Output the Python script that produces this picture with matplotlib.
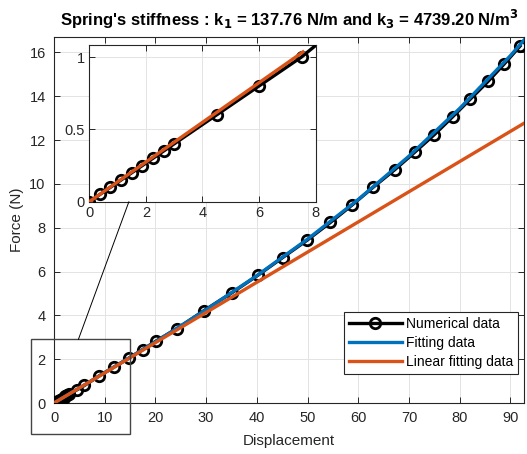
import matplotlib
matplotlib.use("Agg")
import matplotlib.pyplot as plt
from matplotlib.patches import Rectangle, ConnectionPatch

plt.rcParams["font.family"] = ["Liberation Sans", "DejaVu Sans"]

# Numerical data (displacement, force).
dispNum = [0, 0.375, 0.75, 1.125, 1.5, 1.875, 2.25, 2.625, 3.0, 4.5, 6.0, 8.9, 11.8,
           14.7, 17.5, 20.2, 24.3, 29.6, 35.0, 40.2, 45.1, 49.9, 54.5, 58.8, 63.0,
           67.2, 71.1, 75.0, 78.6, 82.1, 85.6, 88.8, 91.9]
forceNum = [0, 0.05, 0.10, 0.15, 0.20, 0.25, 0.30, 0.35, 0.40, 0.60, 0.80, 1.24, 1.64,
            2.04, 2.44, 2.84, 3.40, 4.22, 5.02, 5.83, 6.64, 7.43, 8.24, 9.04, 9.86,
            10.65, 11.44, 12.25, 13.06, 13.87, 14.68, 15.48, 16.29]

# Cubic fitting curve (blue).
dispFit = [0, 10, 20, 30, 40, 50, 60, 70, 80, 90, 92.7]
forceFit = [0, 1.382, 2.793, 4.261, 5.814, 7.480, 9.289, 11.269, 13.447, 15.853, 16.57]

# Linear fitting line (orange).
dispLin = [0, 92.7]
forceLin = [0, 12.77]

# Inset (zoom) data.
dispIn = [0, 0.375, 0.75, 1.125, 1.5, 1.875, 2.25, 2.625, 3.0, 4.5, 6.0, 7.5, 9.0]
forceIn = [0, 0.05, 0.10, 0.15, 0.20, 0.25, 0.30, 0.35, 0.40, 0.60, 0.80, 1.00, 1.24]
dispLinIn = [0, 7.55]
forceLinIn = [0, 1.035]

mBlue = "#0072BD"
mOrange = "#D95319"
axCol = "#262626"


def StyleAxes(ax, fs):
  ax.grid(True, color="#e3e3e3", linewidth=0.7)
  ax.set_axisbelow(True)
  ax.tick_params(direction="in", length=4, width=0.7, colors=axCol, labelsize=fs,
                 top=True, right=True, labelcolor=axCol, pad=6)
  for s in ax.spines.values():
    s.set_color(axCol)
    s.set_linewidth(0.8)


fig = plt.figure(figsize=(5.27, 4.54), dpi=100)
ax = fig.add_axes([0.1025, 0.1123, 0.892, 0.806])

ax.plot(dispNum, forceNum, "-o", color="black", linewidth=2.4, markersize=7.5,
        markerfacecolor="none", markeredgewidth=2.0, label="Numerical data", zorder=3)
ax.plot(dispFit, forceFit, color=mBlue, linewidth=2.4, label="Fitting data", zorder=4)
ax.plot(dispLin, forceLin, color=mOrange, linewidth=2.4, label="Linear fitting data", zorder=5)

ax.set_xlim(0, 92.7)
ax.set_ylim(0, 16.7)
ax.set_xticks(range(0, 91, 10))
ax.set_yticks(range(0, 17, 2))
StyleAxes(ax, 10.5)
ax.set_xlabel("Displacement", fontsize=11, color=axCol, labelpad=6)
ax.set_ylabel("Force (N)", fontsize=11, color=axCol, labelpad=4)
ax.set_title(r"Spring's stiffness : k$_\mathbf{1}$ = 137.76 N/m and k$_\mathbf{3}$ = 4739.20 N/m$^\mathbf{3}$",
             fontsize=12, fontweight="bold", pad=8)

leg = ax.legend(loc="lower right", bbox_to_anchor=(0.987, 0.08), borderaxespad=0,
                fontsize=10, handlelength=3.8, handletextpad=0.3, labelspacing=0.35,
                fancybox=False, framealpha=1, borderpad=0.35)
leg.get_frame().set_edgecolor(axCol)
leg.get_frame().set_linewidth(0.8)

# Zoom box around the origin region (drawn outside the axes).
ax.add_patch(Rectangle((-4.6, -1.41), 19.56, 4.31, fill=False, edgecolor="#444444",
                       linewidth=1.0, clip_on=False, zorder=6))

# Inset axes.
axIn = fig.add_axes([0.1694, 0.5557, 0.4296, 0.3452])
axIn.plot(dispIn, forceIn, "-o", color="black", linewidth=2.4, markersize=7.5,
          markerfacecolor="none", markeredgewidth=2.0, zorder=3)
axIn.plot(dispLinIn, forceLinIn, color=mOrange, linewidth=2.4, zorder=5)
axIn.set_xlim(0, 8)
axIn.set_ylim(0, 1.083)
axIn.set_xticks([0, 2, 4, 6, 8])
axIn.set_yticks([0, 0.5, 1])
axIn.set_yticklabels(["0", "0.5", "1"])
StyleAxes(axIn, 10.5)
axIn.tick_params(pad=3)

con = ConnectionPatch(xyA=(4.8, 2.9), coordsA=ax.transData, xyB=(1.4, 0.0),
                      coordsB=axIn.transData, color="black", linewidth=0.7, zorder=7)
fig.add_artist(con)

fig.savefig("out.png", dpi=100)
